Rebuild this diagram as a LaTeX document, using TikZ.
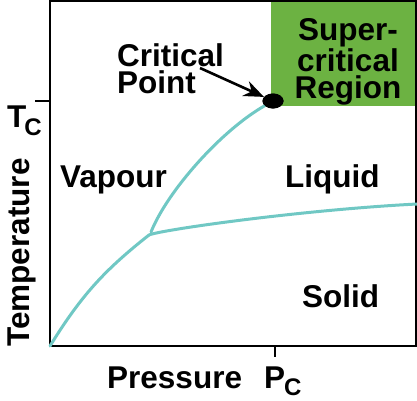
\documentclass[tikz,border=0pt]{standalone}
\usepackage{fontspec}
\setmainfont{Liberation Sans}
\usetikzlibrary{shapes.geometric,arrows.meta}

\definecolor{scgreen}{RGB}{108,178,66}
\definecolor{phaseline}{RGB}{112,200,196}

\begin{document}
\begin{tikzpicture}[x=1pt,y=1pt,
    lbl/.style={inner sep=0, font=\bfseries\fontsize{31.5}{27.5}\selectfont},
    phase/.style={draw=phaseline, line width=3pt, line cap=round}]
    \useasboundingbox (0,0) rectangle (417,400);

    % supercritical region and axes
    \fill[scgreen] (271,294) rectangle (416,399);
    \draw[line width=1.6pt] (50,54) rectangle (416,399);
    \draw[line width=1.6pt] (35,299) -- (50,299);
    \draw[line width=1.6pt] (275,54) -- (275,43);

    % phase boundaries
    \coordinate (o) at (50,54);
    \coordinate (tp) at (149,165);
    \coordinate (end) at (417,196);
    \node[ellipse, fill=black, minimum width=21pt, minimum height=15pt, inner sep=0] at (273,299)(cp) {};
    \draw[phase] (o) to[bend left=10] (tp);
    \draw[phase] (151,168) .. controls (168,210) and (222,270) .. (cp);
    \draw[phase] (tp) .. controls (160,170) and (300,190) .. (end);
    \node[ellipse, fill=black, minimum width=21pt, minimum height=15pt, inner sep=0] at (cp) {};

    % labels
    \node[lbl, anchor=north west, align=left] at (117,357)(cpl) {Critical\\Point};
    \coordinate (cpa) at (200,332);
    \draw[line width=2.6pt, -{Stealth[length=20pt,width=16pt]}] (cpa) -- (cp);
    \node[lbl, align=center] at (348,338)(sc) {Super-\\critical\\Region};
    \node[lbl, anchor=base west] at (60,213)(vap) {Vapour};
    \node[lbl, anchor=base west] at (285,213)(liq) {Liquid};
    \node[lbl, anchor=base west] at (302,93)(sol) {Solid};
    \node[lbl, anchor=base west, rotate=90] at (29,53)(temp) {Temperature};
    \node[lbl, anchor=base west] at (7,273)(tc) {T\kern-2pt\raisebox{-8pt}{\fontsize{24}{24}\selectfont C}};
    \node[lbl, anchor=base west] at (107,12)(pres) {Pressure};
    \node[lbl, anchor=base west] at (264,12)(pc) {P\kern-1pt\raisebox{-7pt}{\fontsize{24}{24}\selectfont C}};
\end{tikzpicture}
\end{document}
